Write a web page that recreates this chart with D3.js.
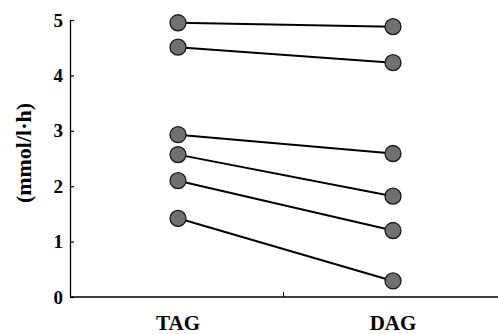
<!DOCTYPE html>
<html><head><meta charset="utf-8">
<script src="https://cdn.jsdelivr.net/npm/d3@7"></script>
<style>body{margin:0;background:#fff;} svg{display:block;}</style>
</head><body>
<script>
const categories = ["TAG", "DAG"];
const tagValues = [4.95, 4.51, 2.93, 2.57, 2.10, 1.42];
const dagValues = [4.88, 4.23, 2.59, 1.82, 1.20, 0.29];
const yTicks = [0, 1, 2, 3, 4, 5];
const yLabel = "(mmol/l·h)";

const W = 498, H = 334;
const svg = d3.select("body").append("svg").attr("width", W).attr("height", H);
const font = "'Liberation Serif','Times New Roman',serif";

const x = d3.scalePoint().domain(categories).range([178, 393]);
const y = d3.scaleLinear().domain([0, 5]).range([297, 20]);
const axisX0 = 70;

// y axis
const yAxis = svg.append("g").attr("transform", `translate(${axisX0},0)`)
  .call(d3.axisLeft(y).tickValues(yTicks).tickFormat(d3.format("d")).tickSizeInner(-4).tickSizeOuter(0).tickPadding(7));
yAxis.select(".domain").attr("stroke", "#000").attr("stroke-width", 1.3);
yAxis.selectAll(".tick line").attr("stroke", "#000").attr("stroke-width", 1.2);
yAxis.selectAll(".tick text").attr("font-family", font).attr("font-weight", "bold").attr("font-size", 19).attr("fill", "#000");

// x axis line
svg.append("line").attr("x1", axisX0).attr("x2", W).attr("y1", y(0)).attr("y2", y(0))
  .attr("stroke", "#000").attr("stroke-width", 1.3);
// middle tick
const mid = (x("TAG") + x("DAG")) / 2 - 2;
svg.append("line").attr("x1", mid).attr("x2", mid).attr("y1", y(0)).attr("y2", y(0) - 5)
  .attr("stroke", "#000").attr("stroke-width", 1);

// x labels
svg.selectAll("text.xl").data(categories).enter().append("text")
  .attr("class", "xl").attr("x", d => x(d)).attr("y", 330)
  .attr("text-anchor", "middle").attr("font-family", font).attr("font-weight", "bold")
  .attr("font-size", 21).attr("fill", "#000").text(d => d);

// y label
svg.append("text").attr("transform", `translate(26,153) rotate(-90)`)
  .attr("text-anchor", "middle").attr("dominant-baseline", "middle")
  .attr("font-family", font).attr("font-weight", "bold").attr("font-size", 22).attr("fill", "#000")
  .text(yLabel);

// pairs
const pairs = tagValues.map((t, i) => ({ tag: t, dag: dagValues[i] }));
svg.selectAll("line.pair").data(pairs).enter().append("line").attr("class", "pair")
  .attr("x1", x("TAG")).attr("y1", d => y(d.tag))
  .attr("x2", x("DAG")).attr("y2", d => y(d.dag))
  .attr("stroke", "#000").attr("stroke-width", 2);

const pts = [];
pairs.forEach(p => { pts.push({ c: "TAG", v: p.tag }); pts.push({ c: "DAG", v: p.dag }); });
svg.selectAll("circle").data(pts).enter().append("circle")
  .attr("cx", d => x(d.c)).attr("cy", d => y(d.v)).attr("r", 8)
  .attr("fill", "#707070").attr("stroke", "#1a1a1a").attr("stroke-width", 1.3);
</script>
</body></html>
